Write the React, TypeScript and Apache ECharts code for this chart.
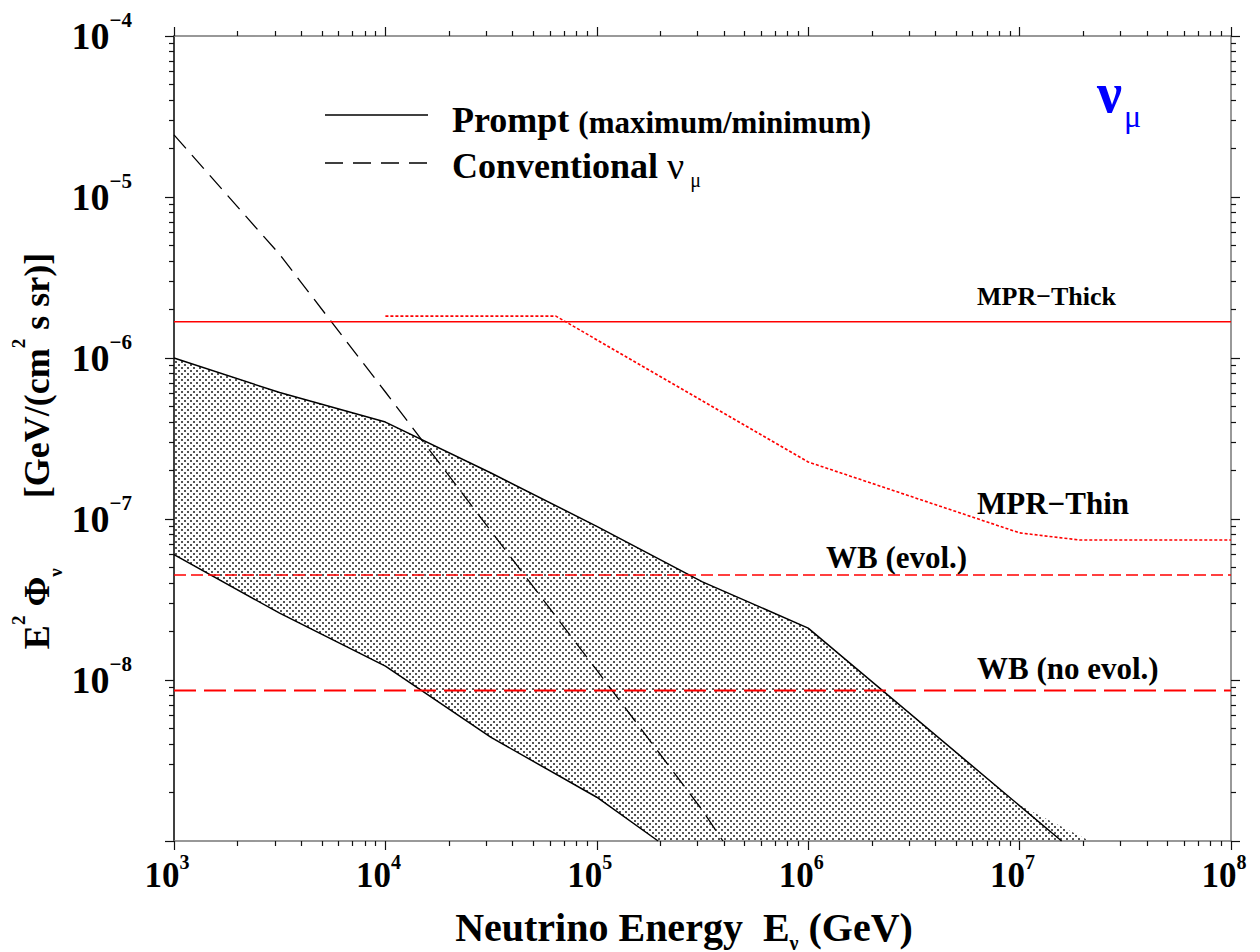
import React, { useEffect, useRef } from 'react';
import * as echarts from 'echarts';

// ---- axis ticks ----
const energyDecades = [1e3, 1e4, 1e5, 1e6, 1e7, 1e8];
const fluxDecades = [1e-9, 1e-8, 1e-7, 1e-6, 1e-5, 1e-4];
const fluxLabelValues = [1e-8, 1e-7, 1e-6, 1e-5, 1e-4];
const minorMultipliers = [2, 3, 4, 5, 6, 7, 8, 9];

// ---- prompt band (maximum / minimum) ----
const promptMaxE = [1e3, 3.16e3, 1e4, 3.16e4, 1e5, 3.16e5, 1e6, 1.58e7];
const promptMaxF = [1e-6, 6.1e-7, 4.0e-7, 1.93e-7, 9.0e-8, 4.07e-8, 2.1e-8, 1e-9];
const promptMinE = [1e3, 3.16e3, 1e4, 3.16e4, 1e5, 1.95e5];
const promptMinF = [6.0e-8, 2.6e-8, 1.22e-8, 4.4e-9, 1.87e-9, 1e-9];
// upper edge of the shaded band (runs slightly past the max line at the bottom)
const bandUpperE = [1e3, 3.16e3, 1e4, 3.16e4, 1e5, 3.16e5, 1e6, 1e7, 2.15e7];
const bandUpperF = [1e-6, 6.1e-7, 4.0e-7, 1.93e-7, 9.0e-8, 4.07e-8, 2.1e-8, 1.67e-9, 1e-9];

// ---- conventional nu_mu ----
const convE = [1e3, 3.16e3, 1e4, 3.16e4, 1e5, 3.16e5, 3.95e5];
const convF = [2.43e-5, 4.4e-6, 6.15e-7, 8.4e-8, 1.15e-8, 1.55e-9, 1e-9];

// ---- bounds ----
const mprThickE = [1e3, 1e8];
const mprThickF = [1.68e-6, 1.68e-6];
const mprThinE = [1e4, 6.4e4, 1e6, 1e7, 1.93e7, 1e8];
const mprThinF = [1.82e-6, 1.82e-6, 2.26e-7, 8.2e-8, 7.4e-8, 7.4e-8];
const wbEvolE = [1e3, 1e8];
const wbEvolF = [4.49e-8, 4.49e-8];
const wbNoEvolE = [1e3, 1e8];
const wbNoEvolF = [8.6e-9, 8.6e-9];

const FONT = 'Liberation Serif';

const pairs = (xs: number[], ys: number[]) => xs.map((x, i) => [x, ys[i]]);
const minorOf = (decades: number[]) =>
  decades.slice(0, -1).flatMap((d) => minorMultipliers.map((m) => m * d));

const expLabel = (v: number) => {
  const e = Math.round(Math.log10(v));
  return `{b|10}{e|${e < 0 ? '\u2212' + -e : e}}`;
};

const dotTile =
  "data:image/svg+xml;utf8,<svg xmlns='http://www.w3.org/2000/svg' width='6' height='6'><rect x='1' y='1' width='2' height='2' fill='%23555555'/><rect x='4' y='4' width='2' height='2' fill='%23555555'/></svg>";

function buildOption() {
  const tickLine = { color: '#111', width: 1.2 };
  const xBase = {
    type: 'log',
    logBase: 10,
    min: 1e3,
    max: 1e8,
    splitLine: { show: false },
    minorTick: { show: false },
    minorSplitLine: { show: false },
  };
  const yBase = {
    type: 'log',
    logBase: 10,
    min: 1e-9,
    max: 1e-4,
    splitLine: { show: false },
    minorTick: { show: false },
    minorSplitLine: { show: false },
  };
  const greyLine = { show: true, onZero: false, lineStyle: { color: '#777', width: 1.5 } };
  const noLine = { show: false, onZero: false };

  const xAxis = [
    {
      ...xBase,
      position: 'bottom',
      axisLine: greyLine,
      axisTick: { show: true, inside: false, length: 9, customValues: energyDecades, lineStyle: tickLine },
      axisLabel: {
        show: true,
        customValues: energyDecades,
        margin: 11,
        formatter: expLabel,
        rich: {
          b: { fontSize: 35, fontWeight: 'bold', fontFamily: FONT, color: '#000', lineHeight: 47 },
          e: { fontSize: 20, fontWeight: 'bold', fontFamily: FONT, color: '#000', height: 20, lineHeight: 20, verticalAlign: 'top', padding: [0, 14, 0, 0] },
        },
      },
    },
    {
      ...xBase,
      position: 'bottom',
      axisLine: noLine,
      axisTick: { show: true, inside: false, length: 5, customValues: minorOf(energyDecades), lineStyle: tickLine },
      axisLabel: { show: false },
    },
    {
      ...xBase,
      position: 'top',
      axisLine: greyLine,
      axisTick: { show: true, inside: false, length: 9, customValues: energyDecades, lineStyle: tickLine },
      axisLabel: { show: false },
    },
    {
      ...xBase,
      position: 'top',
      axisLine: noLine,
      axisTick: { show: true, inside: false, length: 5, customValues: minorOf(energyDecades), lineStyle: tickLine },
      axisLabel: { show: false },
    },
  ];

  const yAxis = [
    {
      ...yBase,
      position: 'left',
      axisLine: { show: true, onZero: false, lineStyle: { color: '#000', width: 1.5 } },
      axisTick: { show: true, inside: false, length: 9, customValues: fluxDecades, lineStyle: tickLine },
      axisLabel: {
        show: true,
        customValues: fluxLabelValues,
        margin: 42,
        formatter: expLabel,
        rich: {
          b: { fontSize: 38, fontWeight: 'bold', fontFamily: FONT, color: '#000', lineHeight: 54 },
          e: { fontSize: 21, fontWeight: 'bold', fontFamily: FONT, color: '#000', height: 21, lineHeight: 21, verticalAlign: 'top' },
        },
      },
    },
    {
      ...yBase,
      position: 'left',
      axisLine: noLine,
      axisTick: { show: true, inside: false, length: 5, customValues: minorOf(fluxDecades), lineStyle: tickLine },
      axisLabel: { show: false },
    },
    {
      ...yBase,
      position: 'right',
      axisLine: greyLine,
      axisTick: { show: true, inside: false, length: 9, customValues: fluxDecades, lineStyle: tickLine },
      axisLabel: { show: false },
    },
    {
      ...yBase,
      position: 'right',
      axisLine: noLine,
      axisTick: { show: true, inside: false, length: 5, customValues: minorOf(fluxDecades), lineStyle: tickLine },
      axisLabel: { show: false },
    },
  ];

  const lineSeries = (name: string, xs: number[], ys: number[], style: any, z = 3) => ({
    name,
    type: 'line',
    xAxisIndex: 0,
    yAxisIndex: 0,
    data: pairs(xs, ys),
    symbol: 'none',
    silent: true,
    clip: true,
    z,
    lineStyle: { cap: 'butt', ...style },
  });

  const bold = { fontWeight: 'bold', fontFamily: FONT };

  const graphic = [
    // legend
    { type: 'line', shape: { x1: 325, y1: 115, x2: 428, y2: 115 }, style: { stroke: '#000', lineWidth: 1.5 } },
    { type: 'line', shape: { x1: 325, y1: 163, x2: 428, y2: 163 }, style: { stroke: '#000', lineWidth: 1.5, lineDash: [18, 10] } },
    {
      type: 'text',
      x: 452,
      y: 120,
      style: {
        text: '{a|Prompt }{p|(maximum/minimum)}',
        verticalAlign: 'middle',
        align: 'left',
        rich: {
          a: { ...bold, fontSize: 36, fill: '#000', height: 36, lineHeight: 36 },
          p: { ...bold, fontSize: 31, fill: '#000', height: 31, lineHeight: 31, verticalAlign: 'bottom' },
        },
      },
    },
    {
      type: 'text',
      x: 452,
      y: 166,
      style: {
        text: '{a|Conventional }{n|\u03bd}{s|\u03bc}',
        verticalAlign: 'middle',
        align: 'left',
        rich: {
          a: { ...bold, fontSize: 36, fill: '#000', lineHeight: 48 },
          n: { fontFamily: FONT, fontSize: 38, fill: '#000', lineHeight: 48 },
          s: { fontFamily: FONT, fontSize: 20, fill: '#000', height: 20, lineHeight: 20, verticalAlign: 'bottom', padding: [0, 0, 0, 6] },
        },
      },
    },
    // nu_mu
    {
      type: 'text',
      x: 1097,
      y: 93,
      style: {
        text: '{n|\u03bd}{s|\u03bc}',
        verticalAlign: 'middle',
        align: 'left',
        rich: {
          n: { ...bold, fontSize: 56, fill: '#0000ff', lineHeight: 76 },
          s: { fontFamily: FONT, fontSize: 32, fill: '#0000ff', height: 30, lineHeight: 30, verticalAlign: 'bottom', padding: [0, 0, 0, 2] },
        },
      },
    },
    // curve labels
    { type: 'text', x: 977, y: 296, style: { text: 'MPR\u2212Thick', ...bold, fontSize: 26, fill: '#000', verticalAlign: 'middle', align: 'left' } },
    { type: 'text', x: 977, y: 503, style: { text: 'MPR\u2212Thin', ...bold, fontSize: 31, fill: '#000', verticalAlign: 'middle', align: 'left' } },
    { type: 'text', x: 826, y: 557, style: { text: 'WB (evol.)', ...bold, fontSize: 31, fill: '#000', verticalAlign: 'middle', align: 'left' } },
    { type: 'text', x: 977, y: 668, style: { text: 'WB (no evol.)', ...bold, fontSize: 31, fill: '#000', verticalAlign: 'middle', align: 'left' } },
    // x title
    {
      type: 'text',
      x: 684,
      y: 930,
      style: {
        text: '{a|Neutrino Energy  E}{s|\u03bd}{a| (GeV)}',
        verticalAlign: 'middle',
        align: 'center',
        rich: {
          a: { ...bold, fontSize: 40, fill: '#000', height: 38, lineHeight: 38, verticalAlign: 'top' },
          s: { ...bold, fontSize: 20, fill: '#000', height: 18, lineHeight: 43, verticalAlign: 'bottom' },
        },
      },
    },
    // y title
    {
      type: 'text',
      x: 37,
      y: 451,
      rotation: Math.PI / 2,
      style: {
        text: '{a|E}{p|2}{a| \u03a6}{q|\u03bd}{g| }{a|[GeV/(cm}{p|2}{a| s sr)]}',
        verticalAlign: 'middle',
        align: 'center',
        rich: {
          a: { ...bold, fontSize: 36, fill: '#000', lineHeight: 55 },
          p: { ...bold, fontSize: 19, fill: '#000', height: 18, lineHeight: 18, verticalAlign: 'top' },
          q: { ...bold, fontSize: 19, fill: '#000', height: 18, lineHeight: 18, verticalAlign: 'bottom' },
          g: { fontSize: 10, width: 70, height: 10, lineHeight: 10 },
        },
      },
    },
  ];

  return {
    animation: false,
    backgroundColor: '#ffffff',
    textStyle: { fontFamily: FONT },
    grid: { left: 174, top: 36, width: 1057, height: 805, containLabel: false, outerBoundsMode: 'none' },
    xAxis,
    yAxis,
    graphic,
    series: [
      {
        type: 'custom',
        coordinateSystem: 'cartesian2d',
        xAxisIndex: 0,
        yAxisIndex: 0,
        silent: true,
        clip: true,
        z: 1,
        data: [[bandUpperE[0], bandUpperF[0]]],
        renderItem: (_params: any, api: any) => {
          const pts: number[][] = [];
          for (let i = 0; i < bandUpperE.length; i++) pts.push(api.coord([bandUpperE[i], bandUpperF[i]]));
          for (let i = promptMinE.length - 1; i >= 0; i--) pts.push(api.coord([promptMinE[i], promptMinF[i]]));
          return {
            type: 'polygon',
            shape: { points: pts },
            style: {
              fill: { image: dotTile, repeat: 'repeat', imageWidth: 6, imageHeight: 6 },
              stroke: null,
            },
          };
        },
      },
      lineSeries('Prompt max', promptMaxE, promptMaxF, { color: '#000', width: 1.5, type: 'solid' }),
      lineSeries('Prompt min', promptMinE, promptMinF, { color: '#000', width: 1.5, type: 'solid' }),
      lineSeries('Conventional', convE, convF, { color: '#000', width: 1.3, type: [18, 9] }),
      lineSeries('MPR Thick', mprThickE, mprThickF, { color: '#ff0000', width: 1.3, type: 'solid' }),
      lineSeries('MPR Thin', mprThinE, mprThinF, { color: '#ff0000', width: 1.6, type: [3, 2] }),
      lineSeries('WB evol', wbEvolE, wbEvolF, { color: '#ff0000', width: 1.5, type: [12, 5] }),
      lineSeries('WB no evol', wbNoEvolE, wbNoEvolF, { color: '#ff0000', width: 2, type: [22, 8] }),
    ],
  };
}

export default function App() {
  const ref = useRef<HTMLDivElement>(null);
  useEffect(() => {
    if (!ref.current) return;
    const chart = echarts.init(ref.current, null, { renderer: 'svg' });
    chart.setOption(buildOption() as any);
    return () => chart.dispose();
  }, []);
  return (
    <div
      ref={ref}
      style={{ position: 'absolute', left: 0, top: 0, width: 1260, height: 952, background: '#fff' }}
    />
  );
}
